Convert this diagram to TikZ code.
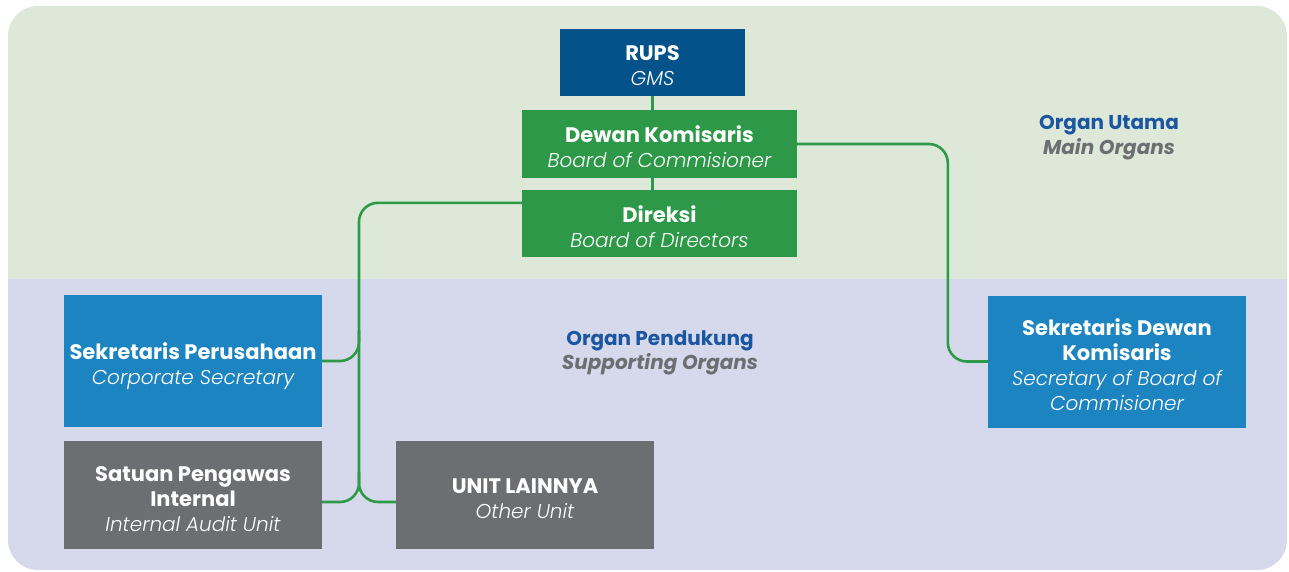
\documentclass[tikz,border=0pt]{standalone}
\usepackage{fontspec}
\setmainfont{Poppins}
\newfontfamily\lightfont{Poppins}[UprightFont=* Light, ItalicFont=* Light Italic]
\usetikzlibrary{calc}

\definecolor{bgtop}{HTML}{DEE8D9}
\definecolor{bgbottom}{HTML}{D6D9EB}
\definecolor{rupsblue}{HTML}{03528A}
\definecolor{boardgreen}{HTML}{2D9847}
\definecolor{supportblue}{HTML}{1D84C2}
\definecolor{unitgray}{HTML}{6D6E72}
\definecolor{linkgreen}{HTML}{2E9A48}
\definecolor{titleblue}{HTML}{1B56A0}
\definecolor{subgray}{HTML}{6D6E72}

% fixed struts keep the baselines at the same place in every box
\newcommand\firstline{\rule{0pt}{29pt}}
\newcommand\lastline{\rule[-7pt]{0pt}{7pt}}
\newcommand\orgname[1]{\textbf{#1}}
\newcommand\orgsub[1]{{\lightfont\itshape\fontsize{20}{25}\selectfont #1}}

\begin{document}
\begin{tikzpicture}[x=1pt,y=-1pt,
  orgbox/.style={inner sep=0pt, align=center, text=white,
    font=\fontsize{21}{25}\selectfont},
  link/.style={draw=linkgreen, line width=2.6pt, rounded corners=19pt},
  straightlink/.style={draw=linkgreen, line width=2.6pt},
  areatitle/.style={anchor=base, text=titleblue, font=\bfseries\fontsize{20}{24}\selectfont},
  areasub/.style={anchor=base, text=subgray, font=\bfseries\itshape\fontsize{20}{24}\selectfont}]

\useasboundingbox (0,0) rectangle (1289,572);

% two-tone rounded panel
\begin{scope}
  \clip[rounded corners=30pt] (8,6) rectangle (1287,570);
  \fill[bgtop] (8,6) rectangle (1287,279);
  \fill[bgbottom] (8,279) rectangle (1287,570);
\end{scope}

% area captions
\node[areatitle] (utama) at (1109,130) {Organ Utama};
\node[areasub] (utamaen) at (1109,155) {Main Organs};
\node[areatitle] (pendukung) at (660,345) {Organ Pendukung};
\node[areasub] (pendukungen) at (660,369) {Supporting Organs};

% main organs
\node[orgbox, fill=rupsblue, minimum width=185pt, minimum height=67pt]
  (rups) at (652.5,62.5) {\firstline\orgname{RUPS}\\\orgsub{GMS}\lastline};
\node[orgbox, fill=boardgreen, minimum width=275pt, minimum height=68pt]
  (dk) at (659.5,144) {\firstline\orgname{Dewan Komisaris}\\\orgsub{Board of Commisioner}\lastline};
\node[orgbox, fill=boardgreen, minimum width=275pt, minimum height=67pt]
  (dir) at (659.5,223.5) {\firstline\orgname{Direksi}\\\orgsub{Board of Directors}\lastline};

% supporting organs
\node[orgbox, fill=supportblue, minimum width=258pt, minimum height=132pt]
  (sdk) at (1117,361.5) {\firstline\orgname{Sekretaris Dewan}\\\orgname{Komisaris}\\
  \orgsub{Secretary of Board of}\\\orgsub{Commisioner}\lastline};
\node[orgbox, fill=supportblue, minimum width=258pt, minimum height=132pt]
  (sp) at (193,361) {\firstline\orgname{Sekretaris Perusahaan}\\\orgsub{Corporate Secretary}\lastline};
\node[orgbox, fill=unitgray, minimum width=258pt, minimum height=108pt]
  (spi) at (193,495) {\firstline\orgname{Satuan Pengawas}\\\orgname{Internal}\\\orgsub{Internal Audit Unit}\lastline};
\node[orgbox, fill=unitgray, minimum width=258pt, minimum height=108pt]
  (ul) at (525,495) {\firstline\orgname{UNIT LAINNYA}\\\orgsub{Other Unit}\lastline};

% connectors
\coordinate (trunkfoot) at (359,502);
\draw[straightlink] (rups.south) -- (rups.south |- dk.north);
\draw[straightlink] (rups.south |- dk.south) -- (rups.south |- dir.north);
\draw[link] (dk.east) -| ($(sdk.west)+(-40,0)$) -- (sdk.west);
\draw[link] ($(dir.north west)+(0,13)$) -| (trunkfoot) -- ([yshift=-7pt]spi.east);
\draw[link] (trunkfoot) ++(0,-30) -- (trunkfoot) -- ([yshift=-7pt]ul.west);
\draw[link] (sp.east -| trunkfoot) ++(0,-30) -- (sp.east -| trunkfoot) -- (sp.east);

\end{tikzpicture}
\end{document}
